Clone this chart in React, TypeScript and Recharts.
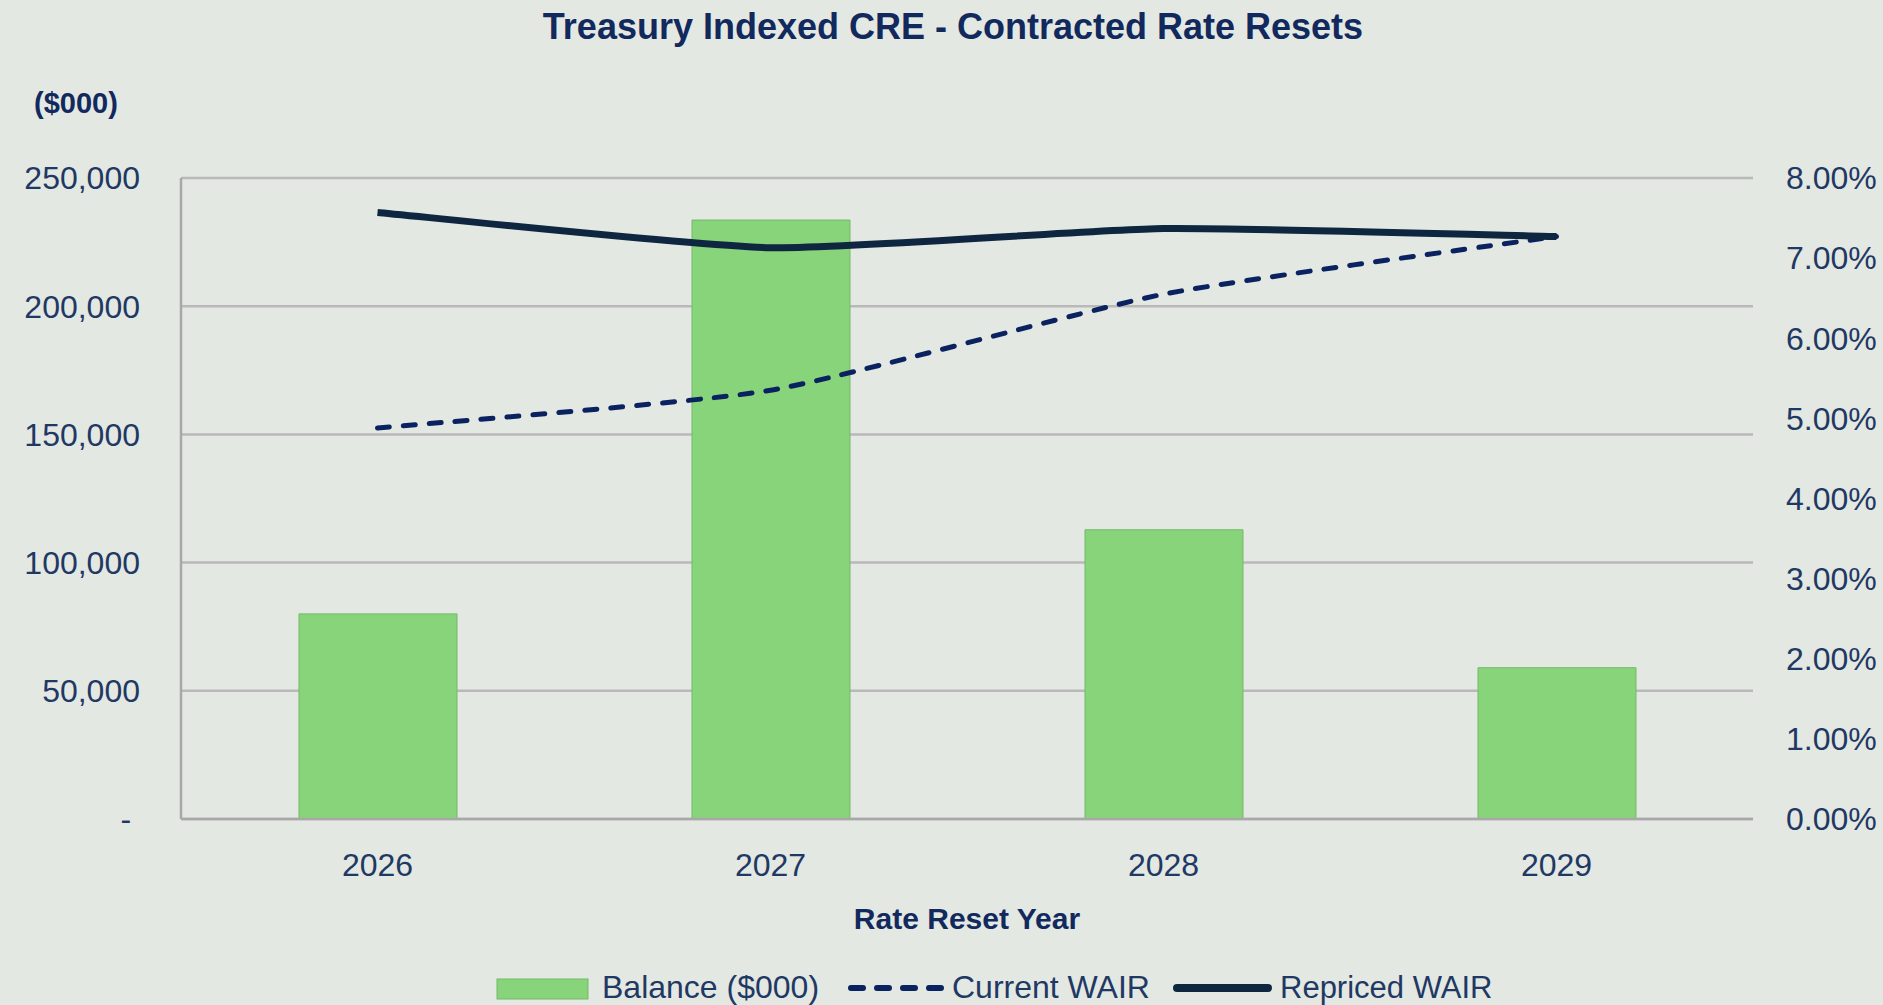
import { Bar, CartesianGrid, ComposedChart, Label, Line, XAxis, YAxis } from 'recharts'

const years = ['2026', '2027', '2028', '2029']
const balance = [80000, 233600, 112800, 59000]
const currentWair = [0.0488, 0.0535, 0.0655, 0.0727]
const repricedWair = [0.0757, 0.0713, 0.0737, 0.0727]
const balanceTicks = [0, 50000, 100000, 150000, 200000, 250000]
const rateTicks = [0, 0.01, 0.02, 0.03, 0.04, 0.05, 0.06, 0.07, 0.08]

const data = years.map((year, i) => ({
  year,
  balance: balance[i],
  current: currentWair[i],
  repriced: repricedWair[i],
}))

const navy = '#1f3864'
const titleNavy = '#12295e'
const font = '"Liberation Sans", Arial, sans-serif'

// Excel-style smoothed line: light Catmull-Rom bends, mostly straight segments
const excelSmooth = (context: any) => {
  let pts: [number, number][] = []
  const t = 0.09
  return {
    areaStart() {},
    areaEnd() {},
    lineStart() {
      pts = []
    },
    point(x: number, y: number) {
      pts.push([+x, +y])
    },
    lineEnd() {
      if (!pts.length) return
      context.moveTo(pts[0][0], pts[0][1])
      for (let i = 0; i < pts.length - 1; i++) {
        const p0 = pts[Math.max(i - 1, 0)]
        const p1 = pts[i]
        const p2 = pts[i + 1]
        const p3 = pts[Math.min(i + 2, pts.length - 1)]
        context.bezierCurveTo(
          p1[0] + (p2[0] - p0[0]) * t,
          p1[1] + (p2[1] - p0[1]) * t,
          p2[0] - (p3[0] - p1[0]) * t,
          p2[1] - (p3[1] - p1[1]) * t,
          p2[0],
          p2[1],
        )
      }
    },
  }
}

const fmtBalance = (v: number) => (v === 0 ? '-\u00a0' : v.toLocaleString('en-US'))
const fmtRate = (v: number) => `${(v * 100).toFixed(2)}%`

export default function App() {
  return (
    <div
      style={{
        position: 'absolute',
        left: 0,
        top: 0,
        width: 1883,
        height: 1005,
        background: '#e3e8e2',
        fontFamily: font,
        overflow: 'hidden',
      }}
    >
      <ComposedChart
        width={1883}
        height={1005}
        data={data}
        margin={{ top: 178, right: 0, left: 0, bottom: 86 }}
      >
        <CartesianGrid
          yAxisId="left"
          vertical={false}
          stroke="#b9b9b9"
          strokeWidth={2.5}
        />
        <XAxis
          dataKey="year"
          height={100}
          tickLine={false}
          tickMargin={28}
          axisLine={{ stroke: '#a8a8a8', strokeWidth: 2.5 }}
          tick={{ fontSize: 32, fill: navy }}
        >
          <Label
            value="Rate Reset Year"
            position="insideTop"
            offset={89}
            style={{ fontSize: 30, fontWeight: 700, fill: titleNavy }}
          />
        </XAxis>
        <YAxis
          yAxisId="left"
          width={181}
          domain={[0, 250000]}
          ticks={balanceTicks}
          tickFormatter={fmtBalance}
          tickLine={false}
          tickMargin={35}
          axisLine={{ stroke: '#a8a8a8', strokeWidth: 2.5 }}
          tick={{ fontSize: 32, fill: navy }}
        />
        <YAxis
          yAxisId="right"
          orientation="right"
          width={130}
          domain={[0, 0.08]}
          ticks={rateTicks}
          tickFormatter={fmtRate}
          tickLine={false}
          tickMargin={27}
          axisLine={false}
          tick={{ fontSize: 32, fill: navy }}
        />
        <Bar
          yAxisId="left"
          dataKey="balance"
          name="Balance ($000)"
          barSize={158}
          fill="#88d47a"
          stroke="#74b968"
          strokeWidth={1}
          isAnimationActive={false}
        />
        <Line
          yAxisId="right"
          dataKey="current"
          name="Current WAIR"
          type={excelSmooth as any}
          stroke="#0b2260"
          strokeWidth={5}
          strokeDasharray="12 14"
          strokeLinecap="round"
          dot={false}
          activeDot={false}
          isAnimationActive={false}
        />
        <Line
          yAxisId="right"
          dataKey="repriced"
          name="Repriced WAIR"
          type={excelSmooth as any}
          stroke="#0f2640"
          strokeWidth={7}
          dot={false}
          activeDot={false}
          isAnimationActive={false}
        />
      </ComposedChart>
      <svg
        width={1883}
        height={1005}
        style={{ position: 'absolute', left: 0, top: 0, pointerEvents: 'none' }}
      >
        <text
          x={953}
          y={38.5}
          textAnchor="middle"
          fontSize={36}
          fontWeight={700}
          fill={titleNavy}
        >
          Treasury Indexed CRE - Contracted Rate Resets
        </text>
        <text x={76} y={113} textAnchor="middle" fontSize={29} fontWeight={700} fill={titleNavy}>
          ($000)
        </text>
        <rect x={497} y={979} width={91} height={20} fill="#88d47a" stroke="#74b968" strokeWidth={1} />
        <text x={602} y={998} fontSize={32} fill={navy}>
          Balance ($000)
        </text>
        <line
          x1={851}
          y1={988}
          x2={943}
          y2={988}
          stroke="#0b2260"
          strokeWidth={6}
          strokeDasharray="12 14"
          strokeLinecap="round"
        />
        <text x={952} y={998} fontSize={32} fill={navy}>
          Current WAIR
        </text>
        <line
          x1={1177}
          y1={988}
          x2={1268}
          y2={988}
          stroke="#0f2640"
          strokeWidth={8}
          strokeLinecap="round"
        />
        <text x={1280} y={998} fontSize={31} fill={navy}>
          Repriced WAIR
        </text>
      </svg>
    </div>
  )
}
